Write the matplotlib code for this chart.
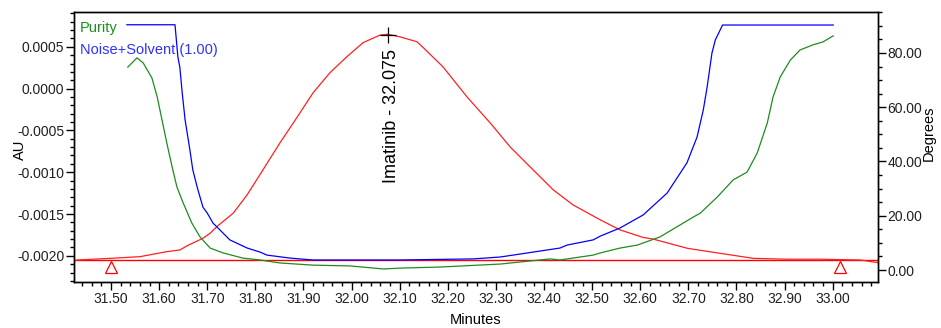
import numpy as np
import matplotlib
matplotlib.use('Agg')
import matplotlib.pyplot as plt
from matplotlib.ticker import MultipleLocator, FuncFormatter

# Chromatogram (AU, left axis)
red_t = [31.429, 31.498, 31.560, 31.616, 31.643, 31.658, 31.691, 31.706, 31.720,
         31.754, 31.783, 31.816, 31.851, 31.887, 31.920, 31.955, 31.990, 32.024,
         32.059, 32.075, 32.100, 32.136, 32.149, 32.190, 32.240, 32.288, 32.330,
         32.377, 32.419, 32.460, 32.517, 32.558, 32.606, 32.627, 32.698, 32.766,
         32.835, 32.905, 32.974, 33.057, 33.093]
red_au = [-0.00205, -0.00203, -0.00201, -0.00195, -0.00193, -0.00188, -0.00179,
          -0.00173, -0.00165, -0.00149, -0.00127, -0.00097, -0.00065, -0.00034,
          -0.00005, 0.00019, 0.00038, 0.00055, 0.00064, 0.00065, 0.00062, 0.00056,
          0.00049, 0.00026, -0.00010, -0.00041, -0.00070, -0.00097, -0.00121,
          -0.00139, -0.00157, -0.00169, -0.00178, -0.00180, -0.00191, -0.00197,
          -0.00203, -0.00204, -0.00204, -0.00205, -0.00208]
baseline_au = -0.00205
baseline_t = [31.423, 33.094]
peak_t = 32.075
peak_au = 0.00064
peak_name = 'Imatinib - 32.075'
integ_t = [31.50, 33.015]
integ_au = [-0.00213, -0.00213]

# Noise+Solvent threshold (degrees, right axis)
blue_t = [31.533, 31.633, 31.639, 31.643, 31.648, 31.654, 31.664, 31.670, 31.679,
          31.691, 31.700, 31.712, 31.720, 31.747, 31.783, 31.810, 31.824, 31.872,
          31.920, 32.059, 32.101, 32.253, 32.309, 32.377, 32.433, 32.448, 32.502,
          32.517, 32.558, 32.606, 32.656, 32.697, 32.718, 32.731, 32.739, 32.749,
          32.756, 32.771, 33.001]
blue_deg = [90.4, 90.4, 78.5, 74.8, 65.3, 55.3, 44.2, 36.9, 30.6, 23.2, 21.0,
            17.3, 15.9, 11.1, 8.1, 6.6, 5.5, 4.4, 3.7, 3.7, 3.7, 4.1, 4.8, 6.6,
            8.1, 9.2, 11.1, 12.5, 15.5, 20.3, 28.4, 39.5, 49.0, 59.0, 67.5, 80.0,
            84.8, 90.3, 90.3]

# Purity angle (degrees, right axis)
green_t = [31.535, 31.554, 31.567, 31.585, 31.596, 31.606, 31.616, 31.627, 31.637,
           31.650, 31.668, 31.685, 31.706, 31.733, 31.774, 31.810, 31.851, 31.920,
           31.997, 32.066, 32.101, 32.184, 32.309, 32.413, 32.433, 32.502, 32.517,
           32.558, 32.594, 32.641, 32.710, 32.725, 32.760, 32.793, 32.822, 32.843,
           32.864, 32.876, 32.891, 32.912, 32.932, 32.959, 32.980, 33.001]
green_deg = [74.8, 78.2, 76.3, 70.8, 63.8, 55.3, 46.8, 38.0, 30.6, 24.7, 17.3,
             12.2, 8.1, 6.3, 4.4, 3.7, 2.6, 1.8, 1.5, 0.4, 0.7, 1.1, 2.2, 4.1,
             3.7, 5.5, 6.3, 8.1, 9.2, 12.2, 19.5, 21.0, 26.9, 33.2, 36.1, 43.1,
             54.2, 63.8, 71.2, 77.4, 81.1, 83.0, 84.1, 86.3]

plt.rcParams['font.family'] = ['Liberation Sans', 'DejaVu Sans']
tick_color = '#202020'

fig = plt.figure(figsize=(9.41, 3.28), dpi=100)
ax = fig.add_axes([0.0786, 0.1402, 0.8544, 0.8232])
ax2 = ax.twinx()

ax.plot(baseline_t, [baseline_au, baseline_au], color='#ff0000', lw=1.0)
ax.plot(red_t, red_au, color='#ff2020', lw=0.9)
ax.plot(integ_t, integ_au, ls='none', marker='^', mfc='none', mec='#ff0000',
        ms=8, mew=0.9)
ax.plot([peak_t], [peak_au], marker='+', color='black', ms=12, mew=0.9)
ax.text(peak_t + 0.009, peak_au - 0.00017, peak_name, rotation=90,
        ha='center', va='top', fontsize=13)

ax2.plot(blue_t, blue_deg, color='#0000ff', lw=0.9)
ax2.plot(green_t, green_deg, color='#1e8c1e', lw=0.9)

ax.set_xlim(31.423, 33.094)
ax.set_ylim(-0.002313, 0.000916)
ax2.set_ylim(-4.42, 95.1)

ax.xaxis.set_major_locator(MultipleLocator(0.1))
ax.xaxis.set_minor_locator(MultipleLocator(0.02))
ax.yaxis.set_major_locator(MultipleLocator(0.0005))
ax.yaxis.set_minor_locator(MultipleLocator(0.0001))
ax2.yaxis.set_major_locator(MultipleLocator(20))
ax2.yaxis.set_minor_locator(MultipleLocator(5))

ax.xaxis.set_major_formatter(FuncFormatter(lambda v, p: '%.2f' % v))
ax.yaxis.set_major_formatter(FuncFormatter(lambda v, p: '%.4f' % (0.0 if abs(v) < 1e-9 else v)))
ax2.yaxis.set_major_formatter(FuncFormatter(lambda v, p: '%.2f' % (0.0 if abs(v) < 1e-9 else v)))

for a in (ax, ax2):
    a.tick_params(which='major', length=6, width=1.0, colors='black',
                  labelsize=10, labelcolor=tick_color, pad=1)
    a.tick_params(which='minor', length=3, width=1.0, colors='black')
    for s in a.spines.values():
        s.set_linewidth(1.0)

ax.set_xlabel('Minutes', fontsize=10.5, labelpad=5)
ax.set_ylabel('AU', fontsize=10.5)
ax2.set_ylabel('Degrees', fontsize=10.5)
ax.yaxis.set_label_coords(-0.058, 0.49)
ax2.yaxis.set_label_coords(1.054, 0.55)

ax.text(0.007, 0.94, 'Purity', transform=ax.transAxes, color='#1e8c1e',
        fontsize=10.5, va='center', ha='left')
ax.text(0.007, 0.858, 'Noise+Solvent (1.00)', transform=ax.transAxes,
        color='#3030ff', fontsize=10.5, va='center', ha='left')

fig.savefig('out.png', dpi=100)
